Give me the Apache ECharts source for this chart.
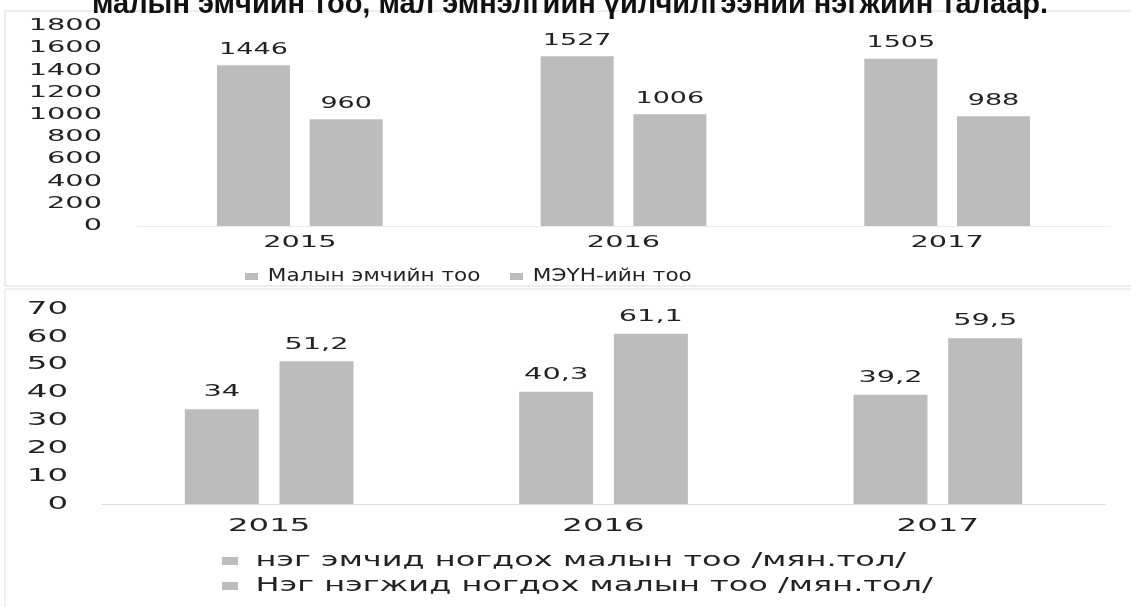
<!DOCTYPE html>
<html>
<head>
<meta charset="utf-8">
<script src="https://cdn.jsdelivr.net/npm/echarts@6/dist/echarts.min.js"></script>
<style>
html,body{margin:0;padding:0;background:#fff;}
#c{width:1131px;height:607px;}
</style>
</head>
<body>
<div id="c"></div>
<script>
const titleText = 'малын эмчийн тоо, мал эмнэлгийн үйлчилгээний нэгжийн талаар.';
const categories = ['2015', '2016', '2017'];
const topSeriesNames = ['Малын эмчийн тоо', 'МЭҮН-ийн тоо'];
const vetCount = [1446, 1527, 1505];
const unitCount = [960, 1006, 988];
const bottomSeriesNames = ['нэг эмчид ногдох малын тоо /мян.тол/', 'Нэг нэгжид ногдох малын тоо /мян.тол/'];
const livestockPerVet = [34, 40.3, 39.2];
const livestockPerUnit = [51.2, 61.1, 59.5];
const topTicks = [0, 200, 400, 600, 800, 1000, 1200, 1400, 1600, 1800];
const bottomTicks = [0, 10, 20, 30, 40, 50, 60, 70];

const FONT = 'DejaVu Sans';
const TXT = '#222';
const BAR = '#bcbcbc';
const fmt = v => String(v).replace('.', ',');

const chart = echarts.init(document.getElementById('c'), null, {renderer: 'canvas'});

const legendBase = {
  icon: 'rect',
  padding: 0,
  itemStyle: {color: BAR}
};

const option = {
  animation: false,
  backgroundColor: '#fff',
  title: {
    text: titleText,
    left: 87,
    top: -15,
    textStyle: {fontFamily: 'Liberation Sans', fontWeight: 'bold', fontSize: 29, color: '#111'}
  },
  graphic: [
    {type: 'rect', shape: {x: 5, y: 11, width: 1140, height: 275}, style: {fill: 'none', stroke: '#dadada', lineWidth: 1}, z: -1},
    {type: 'rect', shape: {x: 5, y: 289, width: 1140, height: 330}, style: {fill: 'none', stroke: '#e2e2e2', lineWidth: 1}, z: -1}
  ],
  legend: [
    Object.assign({}, legendBase, {
      data: [topSeriesNames[0]],
      left: 245, top: 268,
      itemWidth: 13, itemHeight: 7,
      textStyle: {fontFamily: FONT, fontSize: 17, color: TXT}
    }),
    Object.assign({}, legendBase, {
      data: [topSeriesNames[1]],
      left: 510, top: 268,
      itemWidth: 13, itemHeight: 7,
      textStyle: {fontFamily: FONT, fontSize: 17, color: TXT}
    }),
    Object.assign({}, legendBase, {
      data: bottomSeriesNames,
      orient: 'vertical',
      left: 222, top: 551,
      itemWidth: 16, itemHeight: 8, itemGap: 5,
      textStyle: {fontFamily: FONT, fontSize: 20, color: TXT}
    })
  ],
  grid: [
    {left: 138, right: 22, top: 26, height: 200},
    {left: 102, right: 26, top: 309, height: 195}
  ],
  xAxis: [
    {
      type: 'category', gridIndex: 0, data: categories,
      axisLine: {show: true, lineStyle: {color: '#ececec'}}, axisTick: {show: false},
      axisLabel: {fontFamily: FONT, fontSize: 16, color: TXT, margin: 9}
    },
    {
      type: 'category', gridIndex: 1, data: categories,
      axisLine: {show: true, lineStyle: {color: '#d6d6d6', type: 'dotted'}}, axisTick: {show: false},
      axisLabel: {fontFamily: FONT, fontSize: 18, color: TXT, margin: 13}
    }
  ],
  yAxis: [
    {
      type: 'value', gridIndex: 0, min: topTicks[0], max: topTicks[topTicks.length - 1], interval: topTicks[1] - topTicks[0],
      splitLine: {show: false}, axisLine: {show: false}, axisTick: {show: false},
      axisLabel: {fontFamily: FONT, fontSize: 16, color: TXT, margin: 36, formatter: v => String(v)}
    },
    {
      type: 'value', gridIndex: 1, min: bottomTicks[0], max: bottomTicks[bottomTicks.length - 1], interval: bottomTicks[1] - bottomTicks[0],
      splitLine: {show: false}, axisLine: {show: false}, axisTick: {show: false},
      axisLabel: {fontFamily: FONT, fontSize: 18, color: TXT, margin: 34, formatter: v => String(v)}
    }
  ],
  series: [
    {
      name: topSeriesNames[0], type: 'bar', xAxisIndex: 0, yAxisIndex: 0, data: vetCount,
      barWidth: 73, barGap: '27%', itemStyle: {color: BAR},
      label: {show: true, position: 'top', distance: 8, fontFamily: FONT, fontSize: 15, color: TXT, formatter: p => fmt(p.value)}
    },
    {
      name: topSeriesNames[1], type: 'bar', xAxisIndex: 0, yAxisIndex: 0, data: unitCount,
      barWidth: 73, barGap: '27%', itemStyle: {color: BAR},
      label: {show: true, position: 'top', distance: 8, fontFamily: FONT, fontSize: 15, color: TXT, formatter: p => fmt(p.value)}
    },
    {
      name: bottomSeriesNames[0], type: 'bar', xAxisIndex: 1, yAxisIndex: 1, data: livestockPerVet,
      barWidth: 74, barGap: '28%', itemStyle: {color: BAR},
      label: {show: true, position: 'top', distance: 9, fontFamily: FONT, fontSize: 16, color: TXT, formatter: p => fmt(p.value)}
    },
    {
      name: bottomSeriesNames[1], type: 'bar', xAxisIndex: 1, yAxisIndex: 1, data: livestockPerUnit,
      barWidth: 74, barGap: '28%', itemStyle: {color: BAR},
      label: {show: true, position: 'top', distance: 9, fontFamily: FONT, fontSize: 16, color: TXT, formatter: p => fmt(p.value)}
    }
  ]
};
chart.setOption(option);

// The scanned original uses a very wide typeface: widen the chart texts horizontally.
function stretchFor(t) {
  t = String(t);
  if (t === titleText) return 1;
  if (topSeriesNames.indexOf(t) >= 0) return 1.27;
  if (bottomSeriesNames.indexOf(t) >= 0) return 1.6;
  if (/^[\d,]+$/.test(t)) return 1.8;
  return 1;
}
function stretchTexts() {
  const zr = chart.getZr();
  function handle(el) {
    if (!el.style || el.style.text == null) return;
    const s = stretchFor(el.style.text);
    if (s !== 1 && el.scaleX !== s) {
      el.scaleX = s;
      el.markRedraw();
      if (el.__hostTarget) el.__hostTarget.markRedraw();
    }
  }
  function walk(el) {
    if (!el) return;
    if (el.type === 'text') handle(el);
    const tc = el.getTextContent && el.getTextContent();
    if (tc) walk(tc);
    if (el.isGroup) {
      const kids = el.childrenRef ? el.childrenRef() : el.children();
      for (let i = 0; i < kids.length; i++) walk(kids[i]);
    }
  }
  zr.storage.getRoots().forEach(walk);
  zr.refreshImmediately();
}
stretchTexts();
chart.on('finished', stretchTexts);
</script>
</body>
</html>
